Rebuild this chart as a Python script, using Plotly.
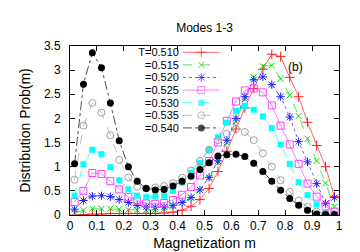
import plotly.graph_objects as go

m = [0.017, 0.050, 0.083, 0.117, 0.150, 0.183, 0.217, 0.250, 0.283, 0.317,
     0.350, 0.383, 0.417, 0.450, 0.483, 0.517, 0.550, 0.583, 0.617, 0.650,
     0.683, 0.717, 0.750, 0.783, 0.817, 0.850, 0.883, 0.917, 0.950, 0.983]

labels = ["T=0.510", "=0.515", "=0.520", "=0.525", "=0.530", "=0.535", "=0.540"]

x_ticks = [0, 0.1, 0.2, 0.3, 0.4, 0.5, 0.6, 0.7, 0.8, 0.9, 1]
x_ticktext = ["0", "0.1", "0.2", "0.3", "0.4", "0.5", "0.6", "0.7", "0.8", "0.9", "1"]
y_ticks = [0, 0.5, 1, 1.5, 2, 2.5, 3, 3.5]
y_ticktext = ["0", "0.5", "1", "1.5", "2", "2.5", "3", "3.5"]

p510 = [0.00, 0.01, 0.02, 0.02, 0.03, 0.03, 0.03, 0.03, 0.03, 0.03, 0.04, 0.06, 0.10, 0.18, 0.32,
        0.55, 0.90, 1.32, 1.78, 2.22, 2.62, 3.02, 3.33, 3.28, 2.85, 2.45, 1.92, 1.44, 1.00, 0.38]
p515 = [0.04, 0.10, 0.13, 0.13, 0.13, 0.12, 0.11, 0.10, 0.10, 0.11, 0.13, 0.18, 0.26, 0.36, 0.52,
        0.76, 1.08, 1.50, 1.94, 2.40, 2.85, 3.08, 3.10, 2.82, 2.48, 2.05, 1.58, 1.12, 0.66, 0.17]
p520 = [0.12, 0.30, 0.39, 0.40, 0.38, 0.32, 0.26, 0.20, 0.17, 0.16, 0.17, 0.20, 0.26, 0.36, 0.52,
        0.78, 1.12, 1.55, 2.00, 2.45, 2.80, 2.86, 2.70, 2.45, 2.03, 1.52, 1.10, 0.65, 0.24, 0.36]
p525 = [0.27, 0.50, 0.87, 0.85, 0.70, 0.53, 0.37, 0.30, 0.24, 0.23, 0.25, 0.31, 0.42, 0.58, 0.82,
        1.12, 1.50, 1.95, 2.35, 2.58, 2.62, 2.54, 2.27, 1.85, 1.46, 1.06, 0.65, 0.38, 0.18, 0.07]
p530 = [0.40, 1.05, 1.35, 1.26, 0.99, 0.72, 0.53, 0.40, 0.37, 0.38, 0.40, 0.50, 0.67, 0.87, 1.08,
        1.35, 1.65, 1.91, 2.16, 2.26, 2.18, 2.04, 1.80, 1.46, 1.06, 0.68, 0.41, 0.22, 0.06, 0.02]
p535 = [0.73, 1.85, 2.32, 2.12, 1.65, 1.14, 0.78, 0.58, 0.55, 0.57, 0.60, 0.66, 0.77, 0.92, 1.12,
        1.35, 1.55, 1.68, 1.78, 1.72, 1.55, 1.28, 1.00, 0.72, 0.48, 0.30, 0.17, 0.07, 0.03, 0.01]
p540 = [1.06, 2.71, 3.36, 3.05, 2.32, 1.54, 1.00, 0.70, 0.55, 0.52, 0.53, 0.60, 0.70, 0.80, 0.94,
        1.08, 1.22, 1.25, 1.26, 1.21, 1.07, 0.90, 0.70, 0.51, 0.34, 0.20, 0.10, 0.02, 0.01, 0.01]

series = [p510, p515, p520, p525, p530, p535, p540]

styles = [
    dict(color="#ff2020", dash="solid", symbol="cross-thin-open", size=7, lw=1),
    dict(color="#00dd00", dash="dash", symbol="x-thin-open", size=6, lw=1),
    dict(color="#2020ff", dash="dot", symbol="asterisk-open", size=7, lw=1),
    dict(color="#ff40ff", dash="solid", symbol="square-open", size=7, lw=1),
    dict(color="#00ffff", dash="dash", symbol="square", size=6, lw=0),
    dict(color="#a0a0a0", dash="dash", symbol="circle-open", size=7, lw=1),
    dict(color="#000000", dash="dashdot", symbol="circle", size=7, lw=0),
]

FONT = "Liberation Sans, Arial, sans-serif"

fig = go.Figure()
for name, ys, st in zip(labels, series, styles):
    fig.add_trace(go.Scatter(
        x=m, y=ys, mode="lines+markers", name=name, showlegend=False,
        line=dict(color=st["color"], width=0.7, dash=st["dash"]),
        marker=dict(symbol=st["symbol"], size=st["size"], color=st["color"],
                    line=dict(color=st["color"], width=st["lw"])),
        xaxis="x", yaxis="y"))

# legend keys drawn on a small overlay axis whose category tick labels are the legend text
for name, st in zip(labels, styles):
    fig.add_trace(go.Scatter(
        x=[0, 0.5, 1], y=[name, name, name], mode="lines+markers", showlegend=False,
        line=dict(color=st["color"], width=0.7, dash=st["dash"]),
        marker=dict(symbol=st["symbol"], size=[0, st["size"], 0], color=st["color"],
                    line=dict(color=st["color"], width=st["lw"])),
        xaxis="x2", yaxis="y2", hoverinfo="skip"))

axis_common = dict(ticks="inside", ticklen=5, mirror="allticks", showline=True,
                   linecolor="black", linewidth=1, showgrid=False, zeroline=False,
                   tickcolor="black", tickmode="array")

fig.update_layout(
    width=360, height=252,
    margin=dict(l=62, r=29, t=38, b=41),
    paper_bgcolor="white", plot_bgcolor="white",
    font=dict(family=FONT, size=12, color="black"),
    title=dict(text="Modes 1-3", x=0.5, xref="paper", y=1 - 20 / 252, yref="container",
               xanchor="center", yanchor="middle", font=dict(size=12)),
    xaxis=dict(range=[0, 1], tickvals=x_ticks, ticktext=x_ticktext, tickangle=0,
               title=dict(text="Magnetization m", standoff=5), **axis_common),
    yaxis=dict(range=[0, 3.5], tickvals=y_ticks, ticktext=y_ticktext, ticklabelstandoff=6,
               title=dict(text="Distribution Prob(m)", standoff=10), **axis_common),
    xaxis2=dict(domain=[0.42, 0.556], range=[0, 1], anchor="y2", visible=False),
    yaxis2=dict(domain=[0.478, 1.0], anchor="x2", type="category", categoryorder="array",
                categoryarray=labels, range=[6.5, -0.5], showline=False, showgrid=False,
                zeroline=False, ticks="", tickmode="array", tickvals=labels, ticktext=labels,
                ticklabelstandoff=3, tickfont=dict(size=11)),
    annotations=[dict(text="(b)", x=(296.7 - 62) / 269, y=(211 - 50) / 173,
                      xref="paper", yref="paper", showarrow=False, font=dict(size=12))],
)

fig.write_html("out.html")
